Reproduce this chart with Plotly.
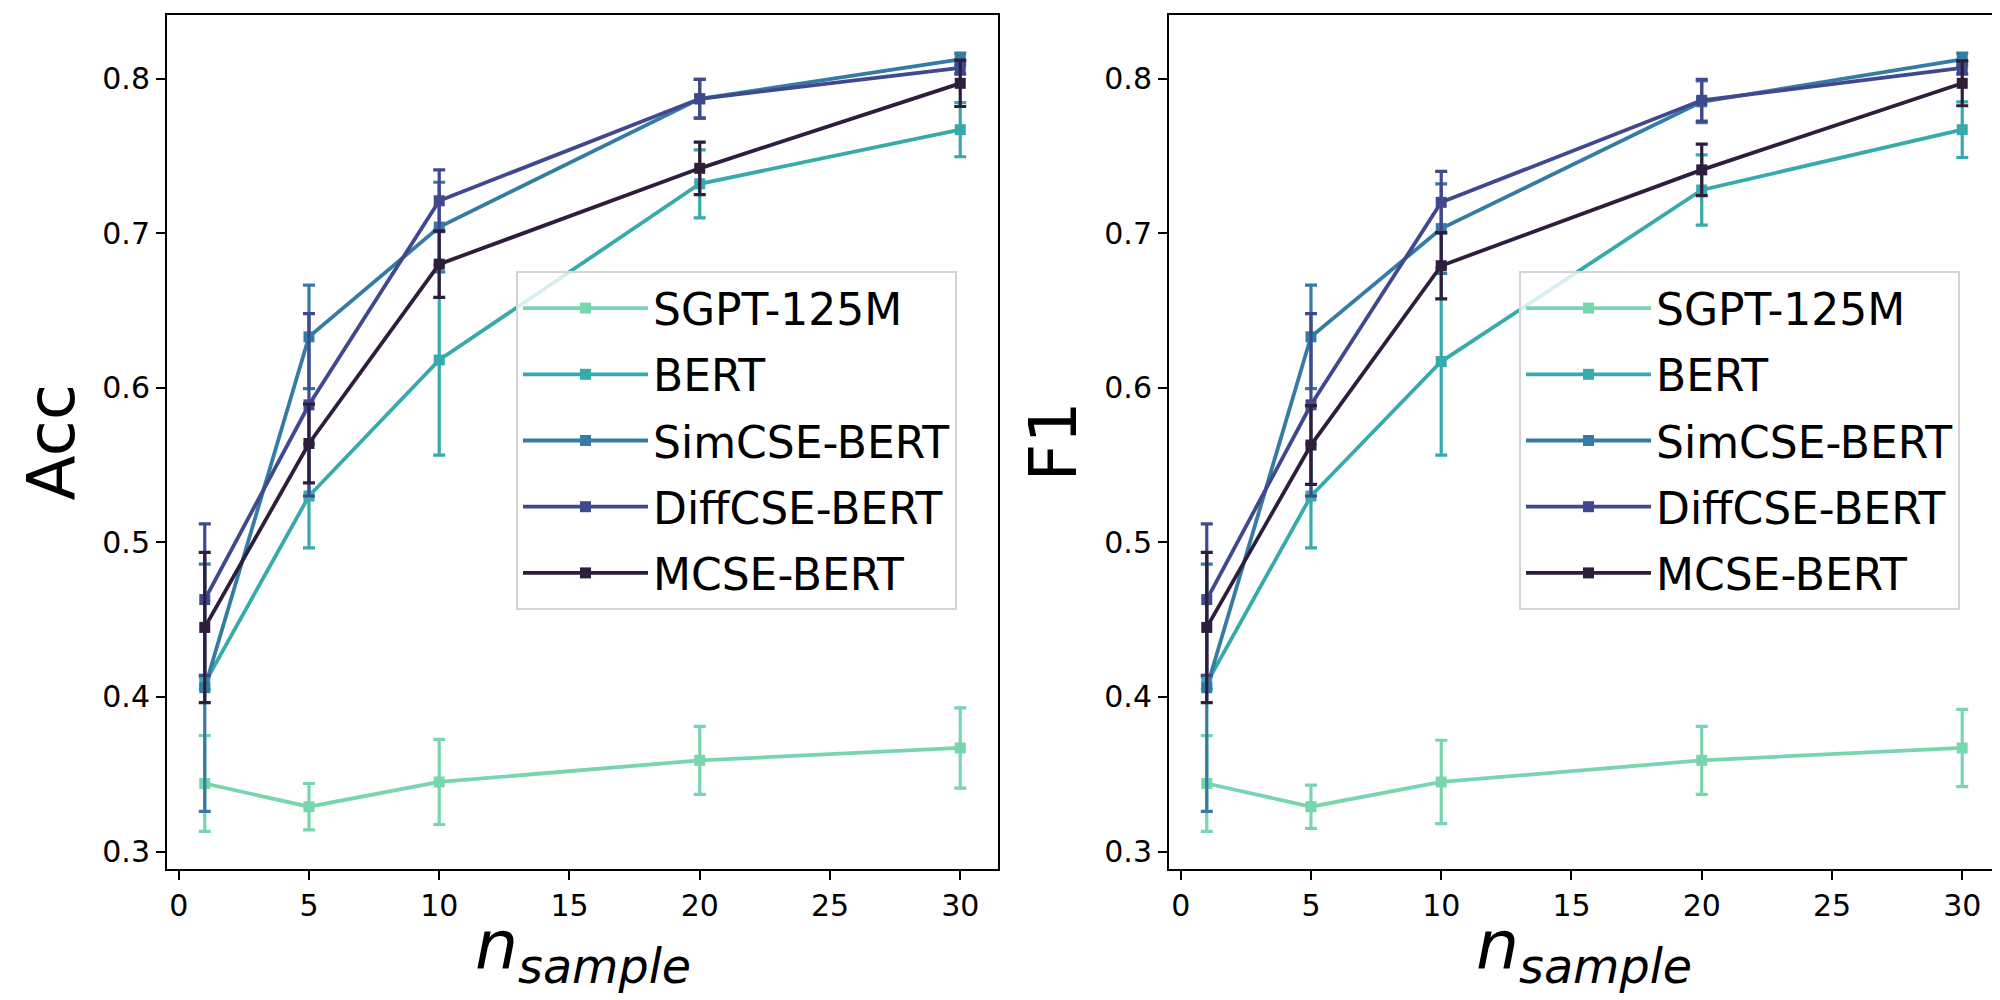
import plotly.graph_objects as go
from plotly.subplots import make_subplots

# x values shared by both panels
n_sample = [1, 5, 10, 20, 30]
models = ["SGPT-125M", "BERT", "SimCSE-BERT", "DiffCSE-BERT", "MCSE-BERT"]
colors = ["#78d6ae", "#38aaac", "#357ba3", "#40498e", "#2e1e3c"]

# Acc panel (mean, std)
sgpt_acc = [0.344, 0.329, 0.345, 0.359, 0.367]
sgpt_acc_err = [0.031, 0.015, 0.0275, 0.022, 0.026]
bert_acc = [0.409, 0.530, 0.618, 0.732, 0.767]
bert_acc_err = [0.004, 0.0335, 0.0615, 0.022, 0.0175]
simcse_acc = [0.406, 0.633, 0.704, 0.787, 0.8125]
simcse_acc_err = [0.080, 0.0335, 0.029, 0.0125, 0.004]
diffcse_acc = [0.463, 0.589, 0.721, 0.787, 0.807]
diffcse_acc_err = [0.049, 0.059, 0.020, 0.0125, 0.004]
mcse_acc = [0.445, 0.564, 0.680, 0.742, 0.797]
mcse_acc_err = [0.0486, 0.0255, 0.0215, 0.017, 0.015]

# F1 panel (mean, std)
sgpt_f1 = [0.344, 0.329, 0.345, 0.359, 0.367]
sgpt_f1_err = [0.031, 0.014, 0.027, 0.022, 0.025]
bert_f1 = [0.409, 0.530, 0.617, 0.728, 0.767]
bert_f1_err = [0.004, 0.0335, 0.0606, 0.0227, 0.018]
simcse_f1 = [0.406, 0.633, 0.703, 0.785, 0.8125]
simcse_f1_err = [0.080, 0.0335, 0.029, 0.0135, 0.004]
diffcse_f1 = [0.463, 0.589, 0.720, 0.786, 0.807]
diffcse_f1_err = [0.049, 0.059, 0.020, 0.0135, 0.004]
mcse_f1 = [0.445, 0.563, 0.679, 0.741, 0.797]
mcse_f1_err = [0.0486, 0.0255, 0.0215, 0.0167, 0.0145]

x_ticks = [0, 5, 10, 15, 20, 25, 30]
y_ticks = [0.3, 0.4, 0.5, 0.6, 0.7, 0.8]

panels = [
    ([sgpt_acc, bert_acc, simcse_acc, diffcse_acc, mcse_acc],
     [sgpt_acc_err, bert_acc_err, simcse_acc_err, diffcse_acc_err, mcse_acc_err]),
    ([sgpt_f1, bert_f1, simcse_f1, diffcse_f1, mcse_f1],
     [sgpt_f1_err, bert_f1_err, simcse_f1_err, diffcse_f1_err, mcse_f1_err]),
]

FONT = "DejaVu Sans"

fig = make_subplots(rows=1, cols=2)

for col, (means, errs) in enumerate(panels, start=1):
    legend_name = "legend" if col == 1 else "legend2"
    for name, color, y, e in zip(models, colors, means, errs):
        fig.add_trace(
            go.Scatter(
                x=n_sample,
                y=y,
                name=name,
                mode="lines+markers",
                line=dict(color=color, width=3.8),
                marker=dict(symbol="square", size=11, color=color),
                error_y=dict(type="data", array=e, color=color, thickness=3.2, width=6),
                legend=legend_name,
                legendgroup=f"{name}-{col}",
            ),
            row=1, col=col,
        )

axis_common = dict(
    showline=True, linewidth=2, linecolor="black", mirror=True,
    showgrid=False, zeroline=False,
    ticks="outside", ticklen=9, tickwidth=2, tickcolor="black",
    tickfont=dict(family=FONT, size=30, color="black"),
)

fig.update_xaxes(range=[-0.45, 31.45], tickvals=x_ticks, **axis_common)
fig.update_yaxes(range=[0.2887, 0.8412], tickvals=y_ticks, tickformat=".1f", **axis_common)
fig.update_layout(
    xaxis=dict(domain=[0.0795, 0.495]),
    xaxis2=dict(domain=[0.5805, 0.996]),
    yaxis=dict(domain=[0.139, 0.993]),
    yaxis2=dict(domain=[0.139, 0.993]),
)

legend_common = dict(
    xanchor="left", yanchor="top",
    bgcolor="rgba(255,255,255,0.8)",
    bordercolor="#d4d4d4", borderwidth=2,
    font=dict(family=FONT, size=44, color="black"),
    tracegroupgap=6,
    itemwidth=125,
)

fig.update_layout(
    width=2000,
    height=1000,
    margin=dict(l=0, r=0, t=0, b=0),
    paper_bgcolor="white",
    plot_bgcolor="white",
    font=dict(family=FONT, color="black"),
    legend=dict(x=0.254, y=0.737, **legend_common),
    legend2=dict(x=0.7555, y=0.737, **legend_common),
)

# axis titles
for x_pos, label in [(0.001, "Acc"), (0.502, "F1")]:
    fig.add_annotation(
        x=x_pos, y=0.566, xref="paper", yref="paper",
        text=label, textangle=-90, showarrow=False,
        xanchor="left", yanchor="middle",
        font=dict(family=FONT, size=66, color="black"),
    )
for x_pos in [0.2873, 0.788]:
    fig.add_annotation(
        x=x_pos, y=0.012, xref="paper", yref="paper",
        text="<i>n</i><sub><i>sample</i></sub>", showarrow=False,
        xanchor="center", yanchor="bottom",
        font=dict(family=FONT, size=68, color="black"),
    )

fig.write_html("out.html")
